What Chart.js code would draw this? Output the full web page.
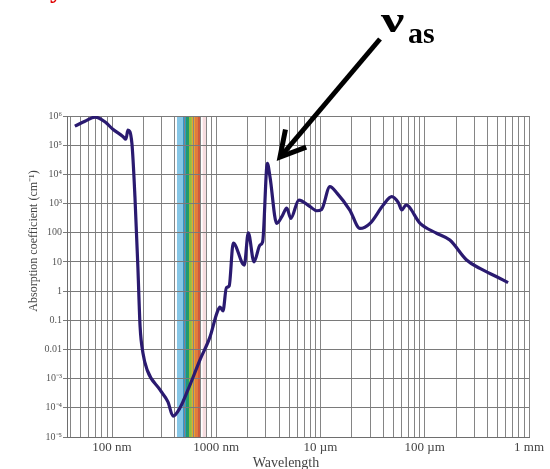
<!DOCTYPE html>
<html><head><meta charset="utf-8">
<script src="https://cdn.jsdelivr.net/npm/chart.js@4.4.0/dist/chart.umd.min.js"></script>
<style>html,body{margin:0;padding:0;background:#fff;overflow:hidden}#wrap{width:550px;height:469px;position:relative}</style>
</head><body><div id="wrap"><canvas id="c" width="550" height="469"></canvas></div>
<script>
// Wavelength (nm) and absorption coefficient (cm^-1)
const wavelengthNm = [44, 55, 69, 86, 102, 127, 136, 142, 155, 166, 177, 186, 198, 217, 289, 344, 385, 449, 535, 698, 871, 1016, 1086, 1160, 1250, 1330, 1455, 1858, 2029, 2300, 2630, 2786, 3090, 3275, 3800, 4300, 4745, 5180, 6200, 7950, 9200, 10250, 12300, 14450, 19100, 23900, 29900, 40000, 48200, 55800, 60200, 66100, 90200, 130000, 174000, 252000, 338000, 490000, 630000];
const absorption   = [4.5e5, 6.6e5, 9.2e5, 6.2e5, 3.5e5, 2.0e5, 1.6e5, 3.3e5, 1.2e5, 1660, 6.8, 0.059, 0.0076, 0.002, 4.1e-4, 1.6e-4, 5.2e-5, 1.0e-4, 4.1e-4, 4.4e-3, 0.027, 0.18, 0.28, 0.21, 1.3, 1.5, 44, 7.8, 100, 10, 38, 49, 24000, 8300, 210, 380, 700, 310, 1320, 780, 566, 630, 3800, 2240, 600, 140, 210, 890, 1720, 1070, 600, 890, 210, 96, 56, 11.6, 6.0, 3.1, 1.95];

const xMin = 37, xMax = 1e6;
const yMin = 1e-5, yMax = 1e6;
const xTickValues = [100, 1000, 10000, 100000, 1000000];
const xTickLabels = ['100 nm', '1000 nm', '10 µm', '100 µm', '1 mm'];
const yTickValues = [1e-5, 1e-4, 1e-3, 0.01, 0.1, 1, 10, 100, 1e3, 1e4, 1e5, 1e6];
const yTickLabels = ['10⁻⁵', '10⁻⁴', '10⁻³', '0.01', '0.1', '1', '10', '100', '10³', '10⁴', '10⁵', '10⁶'];
const visibleBandEdgesNm = [420, 480, 512, 548, 584, 625, 668, 713, 740, 800];
const visibleBandColors = ['#86c6e6', '#2f93c8', '#22996e', '#93bd3c', '#e3a532', '#e17b3d', '#cf5a3e', '#ffffff', '#f6dcdf'];
const xTitle = 'Wavelength';
const yTitle = 'Absorption coefficient (cm⁻¹)';
const annotationMain = 'ν';
const annotationSub = 'as';

function findLabel(values, labels, v) {
  for (let i = 0; i < values.length; i++) {
    if (Math.abs(values[i] - v) <= values[i] * 1e-6) return labels[i];
  }
  return '';
}

const bandPlugin = {
  id: 'band',
  beforeDraw(chart) {
    const {ctx, chartArea, scales} = chart;
    ctx.save();
    ctx.fillStyle = '#ffffff';
    ctx.fillRect(0, 0, chart.width, chart.height);
    for (let i = 0; i < visibleBandColors.length; i++) {
      const x0 = scales.x.getPixelForValue(visibleBandEdgesNm[i]);
      const x1 = scales.x.getPixelForValue(visibleBandEdgesNm[i + 1]);
      ctx.fillStyle = visibleBandColors[i];
      ctx.fillRect(x0, chartArea.top, x1 - x0, chartArea.bottom - chartArea.top);
    }
    ctx.restore();
  }
};

const textPlugin = {
  id: 'texts',
  afterDraw(chart) {
    const {ctx} = chart;
    ctx.save();
    // axis titles
    ctx.fillStyle = '#444';
    ctx.font = '14px "Liberation Serif", serif';
    ctx.textAlign = 'center';
    ctx.textBaseline = 'alphabetic';
    ctx.fillText(xTitle, 286, 467);
    ctx.save();
    ctx.translate(37, 241);
    ctx.rotate(-Math.PI / 2);
    ctx.font = '12px "Liberation Serif", serif';
    ctx.fillText(yTitle, 0, 0);
    ctx.restore();

    // arrow
    const tail = {x: 380, y: 39}, tip = {x: 280, y: 157};
    ctx.strokeStyle = '#000';
    ctx.lineWidth = 5;
    ctx.lineCap = 'butt';
    ctx.beginPath();
    ctx.moveTo(tail.x, tail.y);
    ctx.lineTo(tip.x + 2, tip.y - 2);
    ctx.stroke();
    const ang = Math.atan2(tail.y - tip.y, tail.x - tip.x);
    const L = 28, spread = Math.PI / 6.2;
    ctx.lineJoin = 'miter';
    ctx.beginPath();
    ctx.moveTo(tip.x + L * Math.cos(ang - spread), tip.y + L * Math.sin(ang - spread));
    ctx.lineTo(tip.x, tip.y);
    ctx.lineTo(tip.x + L * Math.cos(ang + spread), tip.y + L * Math.sin(ang + spread));
    ctx.stroke();

    // nu_as label
    ctx.fillStyle = '#000';
    ctx.textAlign = 'left';
    ctx.save();
    ctx.translate(381, 32);
    ctx.scale(1.45, 1);
    ctx.font = 'bold 36px "Liberation Serif", serif';
    ctx.fillText(annotationMain, 0, 0);
    ctx.restore();
    ctx.font = 'bold 30px "Liberation Serif", serif';
    ctx.fillText(annotationSub, 408, 43);

    // cut-off red text at the top
    ctx.fillStyle = '#e00000';
    ctx.font = 'bold 26px "Liberation Serif", serif';
    ctx.fillText('y', 50, -2);
    ctx.restore();
  }
};

new Chart(document.getElementById('c'), {
  type: 'line',
  data: {
    datasets: [{
      data: wavelengthNm.map((w, i) => ({x: w, y: absorption[i]})),
      borderColor: '#2a1a70',
      borderWidth: 3.2,
      pointRadius: 0,
      cubicInterpolationMode: 'monotone',
      fill: false
    }]
  },
  options: {
    responsive: false,
    animation: false,
    devicePixelRatio: 1,
    layout: {padding: {top: 116, right: 21, bottom: 0, left: 0}},
    plugins: {legend: {display: false}, tooltip: {enabled: false}},
    scales: {
      x: {
        type: 'logarithmic',
        min: xMin, max: xMax,
        afterBuildTicks(scale) {
          const t = [];
          for (let e = 1; e <= 6; e++) {
            for (let k = 1; k <= 9; k++) {
              const v = k * Math.pow(10, e);
              if (v >= xMin && v <= xMax) t.push({value: v});
            }
          }
          scale.ticks = t;
        },
        afterFit(scale) { scale.height = 32; },
        grid: {color: '#858585', lineWidth: 1, drawTicks: false},
        border: {color: '#6e6e6e', width: 1},
        ticks: {
          autoSkip: false, maxRotation: 0, minRotation: 0, padding: 3,
          color: '#444',
          font: {family: '"Liberation Serif", serif', size: 13},
          callback: (v) => findLabel(xTickValues, xTickLabels, v)
        }
      },
      y: {
        type: 'logarithmic',
        min: yMin, max: yMax,
        afterBuildTicks(scale) {
          scale.ticks = yTickValues.map(v => ({value: v}));
        },
        afterFit(scale) { scale.width = 67; },
        grid: {color: '#7a7a7a', lineWidth: 1, tickLength: 4},
        border: {color: '#6e6e6e', width: 1},
        ticks: {
          autoSkip: false, padding: 1,
          color: '#555',
          font: {family: '"Liberation Serif", serif', size: 10},
          callback: (v) => findLabel(yTickValues, yTickLabels, v)
        }
      }
    }
  },
  plugins: [bandPlugin, textPlugin]
});
</script>
</body></html>
